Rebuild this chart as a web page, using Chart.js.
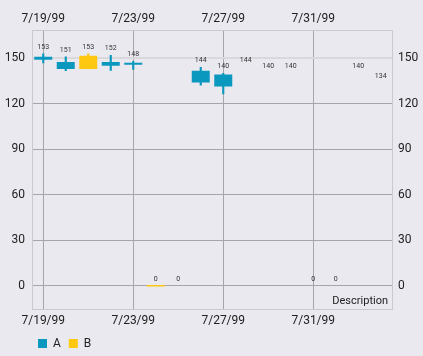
<!DOCTYPE html>
<html><head><meta charset="utf-8">
<script src="https://cdn.jsdelivr.net/npm/chart.js@4"></script>
<style>html,body{margin:0;padding:0;background:#e9e9ef;}canvas{display:block}</style>
</head><body>
<canvas id="c" width="423" height="356"></canvas>
<script>
const categories = ['7/19/99','7/20/99','7/21/99','7/22/99','7/23/99','7/24/99','7/25/99','7/26/99','7/27/99','7/28/99','7/29/99','7/30/99','7/31/99','8/1/99','8/2/99','8/3/99'];
const seriesNames = ['A', 'B'];
const aHigh  = [153, 151,   null, 152,   148,   null, 0, 144,   140,   144, 140, 140, 0, 0, 140, 134];
const aLow   = [147, 141.8, null, 142,   142.7, null, 0, 132.2, 126.5, 144, 140, 140, 0, 0, 140, 134];
const aOpen  = [151, 147.5, null, 147.5, 147,   null, 0, 141.8, 139.3, 144, 140, 140, 0, 0, 140, 134];
const aClose = [149, 143,   null, 145,   145.7, null, 0, 134,   131.3, 144, 140, 140, 0, 0, 140, 134];
const bHigh  = [null, null, 153,   null, null, 0, null, null, null, null, null, null, null, null, null, null];
const bLow   = [null, null, 143,   null, null, 0, null, null, null, null, null, null, null, null, null, null];
const bOpen  = [null, null, 143,   null, null, 0, null, null, null, null, null, null, null, null, null, null];
const bClose = [null, null, 151.7, null, null, 0, null, null, null, null, null, null, null, null, null, null];
const yTicks = [0, 30, 60, 90, 120, 150];
const yMin = -15.3, yMax = 168.3;
const description = 'Description';

const BLUE = '#0b98bf', YELLOW = '#fec811';
const GRID = '#a6a6aa', BORDER = '#c9c9ce', TEXT = '#222222';

// neutral candles (open == close) of series A have no neutral colour -> not drawn
const candle = (lo, hi, open, close, hideNeutral) =>
  lo.map((v, i) => (v == null || (hideNeutral && open[i] === close[i])) ? null : [v, hi[i]]);

Chart.defaults.font.family = 'Roboto';
Chart.defaults.font.size = 12;
Chart.defaults.color = TEXT;

const valueLabels = {
  id: 'valueLabels',
  afterDatasetsDraw(chart) {
    const ctx = chart.ctx, ys = chart.scales.y, xs = chart.scales.x;
    [aHigh, bHigh].forEach(hs => {
      hs.forEach((h, i) => {
        if (h == null) return;
        ctx.save();
        ctx.font = '7px Roboto';
        ctx.fillStyle = '#333';
        ctx.textAlign = 'center';
        ctx.textBaseline = 'alphabetic';
        ctx.fillText(String(h), xs.getPixelForValue(i), ys.getPixelForValue(h) - 5);
        ctx.restore();
      });
    });
  }
};
const descPlugin = {
  id: 'descPlugin',
  afterLayout(chart) { if (chart.legend) { chart.legend.left += 30; } },
  afterDraw(chart) {
    const ctx = chart.ctx, a = chart.chartArea;
    ctx.save();
    ctx.font = '11px Roboto';
    ctx.fillStyle = TEXT;
    ctx.textAlign = 'right';
    ctx.textBaseline = 'alphabetic';
    ctx.fillText(description, a.right - 4, a.bottom - 5.5);
    ctx.restore();
  }
};

const xTickCb = function (v, i) { return i % 4 === 0 ? this.getLabelForValue(v) : ''; };
const setYTicks = s => { s.ticks = yTicks.map(v => ({ value: v })); };

new Chart(document.getElementById('c'), {
  type: 'bar',
  data: {
    labels: categories,
    datasets: [
      { label: seriesNames[0], data: candle(aOpen, aClose, aOpen, aClose, true), backgroundColor: BLUE, borderColor: BLUE, borderWidth: 0,
        barPercentage: 0.8, categoryPercentage: 1, grouped: false, order: 0, xAxisID: 'x', yAxisID: 'y' },
      { label: seriesNames[1], data: candle(bOpen, bClose, bOpen, bClose, false), backgroundColor: YELLOW, borderColor: YELLOW, borderWidth: 0,
        barPercentage: 0.8, categoryPercentage: 1, grouped: false, order: 0, minBarLength: 1.5, xAxisID: 'x', yAxisID: 'y' },
      { label: seriesNames[0] + ' shadow', data: candle(aLow, aHigh, aOpen, aClose, true), backgroundColor: BLUE, borderWidth: 0,
        barThickness: 1.5, grouped: false, order: 1, xAxisID: 'x', yAxisID: 'y' },
      { label: seriesNames[1] + ' shadow', data: candle(bLow, bHigh, bOpen, bClose, true), backgroundColor: YELLOW, borderWidth: 0,
        barThickness: 1.5, grouped: false, order: 1, xAxisID: 'x', yAxisID: 'y' }
    ]
  },
  options: {
    responsive: false,
    animation: false,
    devicePixelRatio: 1,
    layout: { padding: 0 },
    plugins: {
      tooltip: { enabled: false },
      legend: {
        position: 'bottom', align: 'start', maxHeight: 26.5,
        labels: {
          boxWidth: 9, boxHeight: 9, padding: 8, color: TEXT, font: { size: 12 },
          filter: it => it.datasetIndex < 2
        }
      }
    },
    scales: {
      x: {
        type: 'category', position: 'bottom', offset: true,
        grid: { offset: false, drawTicks: false, color: c => (c.index % 4 === 0 ? GRID : 'rgba(0,0,0,0)') },
        border: { color: BORDER },
        ticks: { autoSkip: false, maxRotation: 0, padding: 5, callback: xTickCb },
        afterFit: s => { s.height = 20.5; }
      },
      x2: {
        type: 'category', position: 'top', offset: true,
        grid: { offset: false, drawTicks: false, drawOnChartArea: false },
        border: { color: BORDER },
        ticks: { autoSkip: false, maxRotation: 0, padding: 4, callback: xTickCb },
        afterFit: s => { s.height = 30.5; }
      },
      y: {
        type: 'linear', position: 'left', min: yMin, max: yMax,
        grid: { drawTicks: false, color: c => (c.tick && c.tick.value === 150 ? '#d8d8dd' : GRID),
                lineWidth: c => (c.tick && c.tick.value === 150 ? 2 : 1) },
        border: { color: BORDER },
        ticks: { padding: 7 },
        afterBuildTicks: setYTicks,
        afterFit: s => { s.width = 32; }
      },
      y2: {
        type: 'linear', position: 'right', min: yMin, max: yMax,
        grid: { drawTicks: false, drawOnChartArea: false },
        border: { color: BORDER },
        ticks: { padding: 6 },
        afterBuildTicks: setYTicks,
        afterFit: s => { s.width = 31; }
      }
    }
  },
  plugins: [valueLabels, descPlugin]
});
</script>
</body></html>
